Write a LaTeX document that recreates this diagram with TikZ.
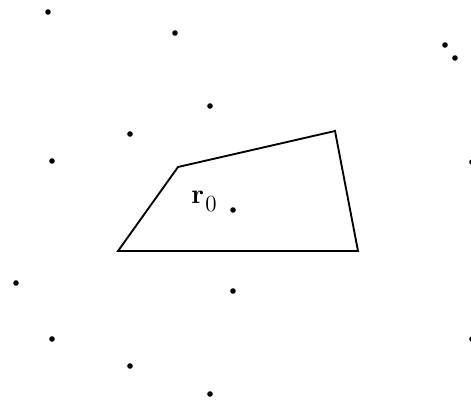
\documentclass[tikz,border=0pt]{standalone}
\usepackage{amsmath}
\usepackage{amssymb}
\usepackage{tikz}

\begin{document}
\begin{tikzpicture}[x=0.75pt,y=-0.75pt,
	site/.style={circle,fill=black,inner sep=0pt,minimum size=4.2pt}]
		\useasboundingbox (0,0) rectangle (471,400);
		% corners of the cell
		\coordinate (c1) at (118,251);
		\coordinate (c2) at (178,167);
		\coordinate (c3) at (335,131);
		\coordinate (c4) at (358,251);
		\draw[line width=1.4pt,line join=miter] (c1) -- (c2) -- (c3) -- (c4) -- cycle;
		% the points
		\node[site] (s0) at (233,210) {};
		\node[site] (s1) at (48,12) {};
		\node[site] (s2) at (175,33) {};
		\node[site] (s3) at (445,45) {};
		\node[site] (s4) at (455,58) {};
		\node[site] (s5) at (210,106) {};
		\node[site] (s6) at (130,134) {};
		\node[site] (s7) at (52,161) {};
		\node[site] (s8) at (472,162) {};
		\node[site] (s9) at (16,283) {};
		\node[site] (s10) at (233,291) {};
		\node[site] (s11) at (52,339) {};
		\node[site] (s12) at (472,339) {};
		\node[site] (s13) at (130,366) {};
		\node[site] (s14) at (210,394) {};
		\node[font=\LARGE,scale=1.2,anchor=base west,inner sep=0pt] (lbl) at (191,203)
			{$\mathbf{r}$\kern0.5pt\raisebox{-5.5pt}{\Large\kern0.3pt 0}};
\end{tikzpicture}
\end{document}
